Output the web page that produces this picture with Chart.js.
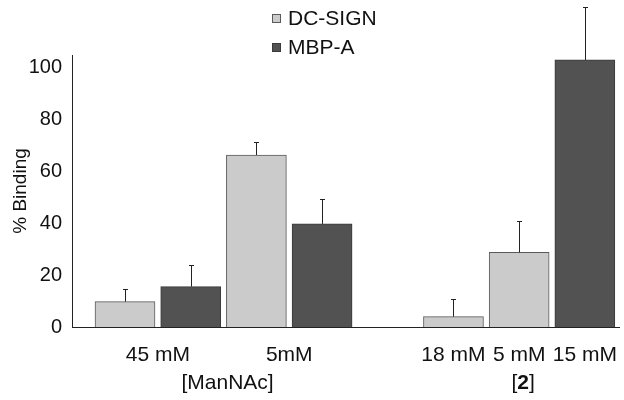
<!DOCTYPE html>
<html><head><meta charset="utf-8">
<script src="https://cdn.jsdelivr.net/npm/chart.js@4/dist/chart.umd.min.js"></script>
<style>html,body{margin:0;padding:0;background:#fff}#wrap{width:624px;height:400px}</style>
</head><body><div id="wrap"><canvas id="c" width="624" height="400"></canvas></div>
<script>
// ---- data ----
const slotLabels = ['45 mM', '45 mM', '5mM', '5mM', '', '18 mM', '5 mM', '15 mM'];
const slotGroups = ['[ManNAc]', '[ManNAc]', '[ManNAc]', '[ManNAc]', '', '[2]', '[2]', '[2]'];
const seriesNames = ['DC-SIGN', 'MBP-A'];
const dcSign    = [9.8, null, 66.4, null, null, 4.0, 28.8, null];
const dcSignErr = [4.8, null, 5.1,  null, null, 6.8, 12.0, null];
const mbpA      = [null, 15.6, null, 39.8, null, null, null, 103.1];
const mbpAErr   = [null, 8.2,  null, 9.6,  null, null, null, 20.5];
const yTicks = [0, 20, 40, 60, 80, 100];
const yTitle = '% Binding';

// ---- helpers ----
function centersOf(arr) {
  const out = [];
  arr.forEach((lab, i) => {
    if (!lab) return;
    let o = out.find(e => e.label === lab);
    if (!o) { o = {label: lab, sum: 0, n: 0}; out.push(o); }
    o.sum += i; o.n++;
  });
  return out.map(o => ({label: o.label, value: o.sum / o.n}));
}
const xTickDefs = centersOf(slotLabels);
const groupDefs = centersOf(slotGroups);
function toPoints(vals, errs) {
  const pts = [];
  vals.forEach((v, i) => { if (v !== null) pts.push({x: i, y: v, err: errs[i]}); });
  return pts;
}

const FONT = "'Liberation Sans', Arial, sans-serif";
Chart.defaults.font.family = FONT;
Chart.defaults.color = '#111';

const errorBars = {
  id: 'errorBars',
  afterDatasetsDraw(chart) {
    const ctx = chart.ctx, y = chart.scales.y;
    ctx.save();
    ctx.strokeStyle = '#222';
    ctx.lineWidth = 1;
    chart.data.datasets.forEach((ds, di) => {
      const meta = chart.getDatasetMeta(di);
      meta.data.forEach((el, j) => {
        const p = ds.data[j];
        if (p.err == null) return;
        const x = Math.round(el.x) + 0.5;
        const y0 = y.getPixelForValue(p.y);
        const y1 = Math.round(y.getPixelForValue(p.y + p.err)) + 0.5;
        ctx.beginPath();
        ctx.moveTo(x, y0); ctx.lineTo(x, y1);
        ctx.moveTo(x - 2.5, y1); ctx.lineTo(x + 2.5, y1);
        ctx.stroke();
      });
    });
    ctx.restore();
  }
};

const customLegend = {
  id: 'customLegend',
  afterDraw(chart) {
    const ctx = chart.ctx;
    ctx.save();
    ctx.font = '21px ' + FONT;
    ctx.textBaseline = 'middle';
    chart.data.datasets.forEach((ds, i) => {
      const cy = 18 + i * 29;
      ctx.fillStyle = ds.backgroundColor;
      ctx.fillRect(272, cy - 4, 9, 9);
      ctx.strokeStyle = ds.borderColor;
      ctx.lineWidth = 1;
      ctx.strokeRect(272.5, cy - 3.5, 8, 8);
      ctx.fillStyle = '#111';
      ctx.fillText(ds.label, 288, cy + 1);
    });
    ctx.restore();
  }
};

const groupLabels = {
  id: 'groupLabels',
  afterDraw(chart) {
    const ctx = chart.ctx, xs = chart.scales.x;
    ctx.save();
    ctx.textBaseline = 'middle';
    ctx.fillStyle = '#111';
    const cy = 383;
    groupDefs.forEach(g => {
      const cx = xs.getPixelForValue(g.value) + 4;
      const m = g.label.match(/^\[(\d+)\]$/);
      if (m) {
        const parts = [['[', 'normal'], [m[1], 'bold'], [']', 'normal']];
        let total = 0;
        parts.forEach(p => { ctx.font = p[1] + ' 21px ' + FONT; total += ctx.measureText(p[0]).width; });
        let x = cx - total / 2;
        ctx.textAlign = 'left';
        parts.forEach(p => { ctx.font = p[1] + ' 21px ' + FONT; ctx.fillText(p[0], x, cy); x += ctx.measureText(p[0]).width; });
      } else {
        ctx.font = '21px ' + FONT;
        ctx.textAlign = 'center';
        ctx.fillText(g.label, cx, cy);
      }
    });
    ctx.restore();
  }
};

new Chart(document.getElementById('c'), {
  type: 'bar',
  data: {
    datasets: [
      {label: seriesNames[0], data: toPoints(dcSign, dcSignErr), backgroundColor: '#cbcbcb', borderColor: '#5a5a5a', borderWidth: 1, grouped: false, barThickness: 60},
      {label: seriesNames[1], data: toPoints(mbpA, mbpAErr), backgroundColor: '#525252', borderColor: '#3a3a3a', borderWidth: 1, grouped: false, barThickness: 60}
    ]
  },
  options: {
    responsive: false,
    animation: false,
    devicePixelRatio: 1,
    layout: {padding: {top: 55, left: 0, right: 5, bottom: 0}},
    plugins: {legend: {display: false}, tooltip: {enabled: false}},
    scales: {
      x: {
        type: 'linear',
        offset: false,
        min: -0.807, max: 7.52,
        grid: {display: false, drawTicks: false},
        border: {display: true, color: '#222', width: 1},
        afterBuildTicks: s => { s.ticks = xTickDefs.map(t => ({value: t.value})); },
        afterFit: s => { s.height = 73; s.paddingLeft = 0; s.paddingRight = 0; },
        ticks: {
          autoSkip: false, maxRotation: 0, padding: 16,
          font: {size: 21},
          callback: v => { const t = xTickDefs.find(d => Math.abs(d.value - v) < 1e-6); return t ? t.label : ''; }
        }
      },
      y: {
        min: 0, max: 105,
        grid: {display: false, drawTicks: false},
        border: {display: true, color: '#222', width: 1},
        afterBuildTicks: s => { s.ticks = yTicks.map(v => ({value: v})); },
        afterFit: s => { s.width = 72; s.paddingTop = 0; s.paddingBottom = 0; },
        ticks: {padding: 10, font: {size: 20}},
        title: {display: true, text: yTitle, font: {size: 19}, padding: {top: 9, bottom: 0}}
      }
    }
  },
  plugins: [errorBars, customLegend, groupLabels]
});
</script></body></html>
